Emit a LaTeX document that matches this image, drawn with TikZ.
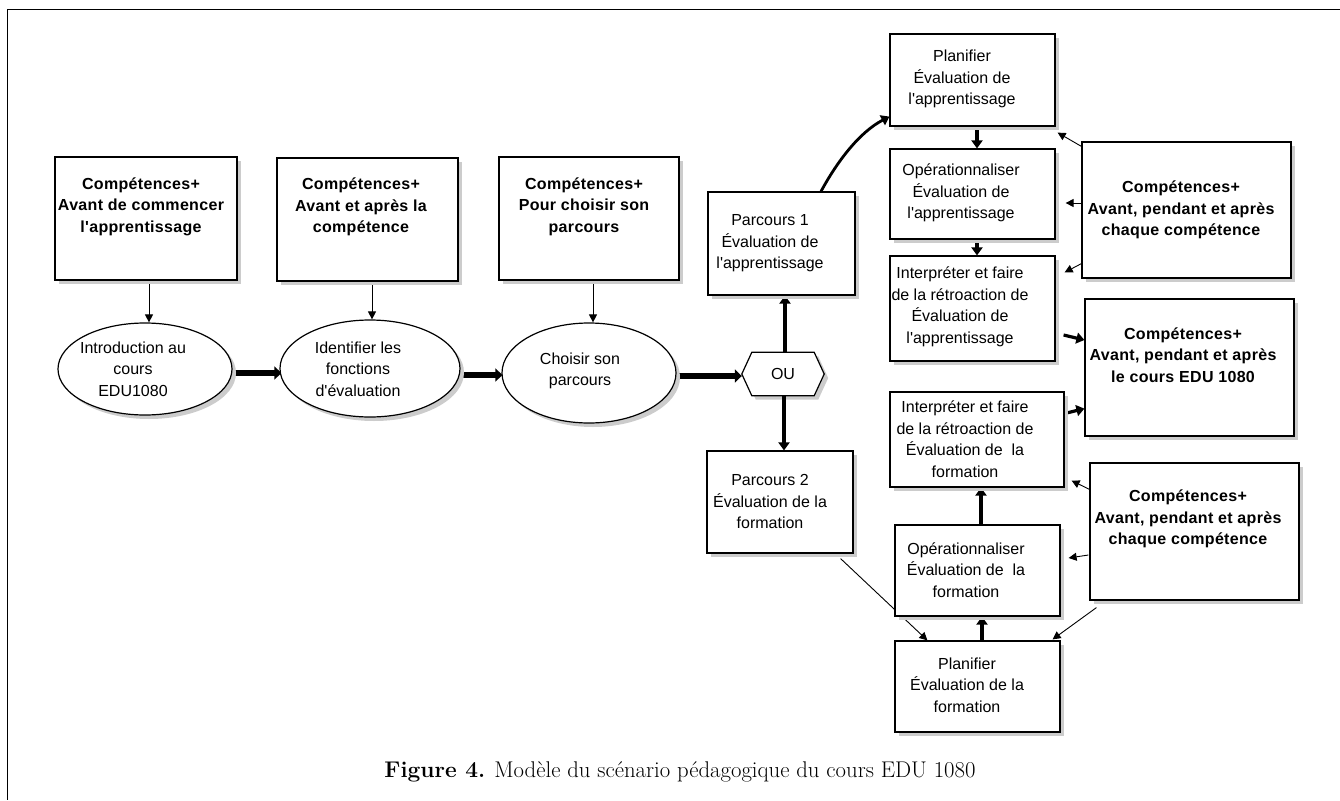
\documentclass[tikz,border=0pt]{standalone}
\usepackage{fontspec}
\setsansfont{Liberation Sans}[Ligatures=TeXOff]
\usetikzlibrary{arrows.meta,shadows,calc,shapes.geometric}
\pgfdeclarelayer{back}
\pgfsetlayers{back,main}

\tikzset{
  shade box/.style={drop shadow={shadow xshift=4pt,shadow yshift=-4pt,opacity=1,fill=black!20}},
  box/.style={draw, line width=1.2pt, fill=white, inner sep=0pt, shade box},
  oval/.style={ellipse, draw, line width=1.2pt, fill=white, inner sep=0pt, shade box},
  txt/.style={font=\sffamily\fontsize{16}{21.5}\selectfont, align=center, inner sep=0pt},
  btxt/.style={font=\sffamily\bfseries\fontsize{16}{21.5}\selectfont\addfontfeatures{LetterSpace=2}, align=center, inner sep=0pt},
  thin arrow/.style={draw, line width=0.9pt, -{Triangle[length=8pt,width=8pt]}},
  bold arrow/.style={draw, line width=3.2pt, -{Triangle[length=8pt,width=11pt]}},
  fat arrow/.style={draw, line width=6.5pt, -{Triangle[length=7pt,width=13pt]}},
}

\begin{document}
\begin{tikzpicture}[x=1pt,y=-1pt]
\useasboundingbox (0,0) rectangle (1340,800);

% frame
\draw[line width=1.6pt] (1340,9.5) -- (7.5,9.5) -- (7.5,800);

% --- top row: competence boxes ---
\node[box, minimum width=182pt, minimum height=123pt] (a1) at (146,218.5) {};
\node[box, minimum width=181pt, minimum height=123pt] (a2) at (367.5,219.5) {};
\node[box, minimum width=180pt, minimum height=123pt] (a3) at (589,218.5) {};
\node[btxt] (a1t) at (141,206.5) {Compétences+\\Avant de commencer\\l'apprentissage};
\node[btxt] (a2t) at (361,207) {Compétences+\\Avant et après la\\compétence};
\node[btxt] (a3t) at (584,206.5) {Compétences+\\Pour choisir son\\parcours};

% --- ellipses ---
\node[oval, minimum width=174pt, minimum height=92pt] (e1) at (145,369) {};
\node[oval, minimum width=180pt, minimum height=97pt] (e2) at (370,368.5) {};
\node[oval, minimum width=174pt, minimum height=100pt] (e3) at (589,373) {};
\node[txt] (e1t) at (133,369) {Introduction au\\cours\\EDU1080};
\node[txt] (e2t) at (358,369) {Identifier les\\fonctions\\d'évaluation};
\node[txt] (e3t) at (580,371) {Choisir son\\parcours};

% --- decision ---
\node[txt, minimum width=82pt, minimum height=43pt] (ou) at (783,374) {OU};

% --- paths ---
\node[box, minimum width=147pt, minimum height=103pt] (p1) at (781.5,243.5) {};
\node[txt] (p1t) at (770,243.5) {Parcours 1\\Évaluation de\\l'apprentissage};
\node[box, minimum width=146pt, minimum height=102pt] (p2) at (780,502) {};
\node[txt] (p2t) at (770,501.5) {Parcours 2\\Évaluation de la\\formation};

% --- learning evaluation steps ---
\node[box, minimum width=165pt, minimum height=92pt] (t1) at (972.5,80) {};
\node[box, minimum width=165pt, minimum height=90pt] (t2) at (972.5,194) {};
\node[box, minimum width=165pt, minimum height=105pt] (t3) at (972.5,308.5) {};
\node[txt] (t1t) at (962,79) {Planifier\\Évaluation de\\l'apprentissage};
\node[txt] (t2t) at (961,193) {Opérationnaliser\\Évaluation de\\l'apprentissage};
\node[txt] (t3t) at (960,307) {Interpréter et faire\\de la rétroaction de\\Évaluation de\\l'apprentissage};

% --- formation evaluation steps ---
\node[box, minimum width=174pt, minimum height=95pt] (b3) at (977,439.5) {};
\node[box, minimum width=165pt, minimum height=91pt] (b2) at (977.5,570.5) {};
\node[box, minimum width=165pt, minimum height=91pt] (b1) at (977.5,686.5) {};
\node[txt] (b3t) at (965,439) {Interpréter et faire\\de la rétroaction de\\Évaluation de\ \ la\\formation};
\node[txt] (b2t) at (966,570) {Opérationnaliser\\Évaluation de\ \ la\\formation};
\node[txt] (b1t) at (967,685) {Planifier\\Évaluation de la\\formation};

% --- right competence boxes ---
\node[box, minimum width=209pt, minimum height=136pt] (r1) at (1186.5,210) {};
\node[box, minimum width=209pt, minimum height=137pt] (r2) at (1189.5,367.5) {};
\node[box, minimum width=209pt, minimum height=137pt] (r3) at (1194.5,531.5) {};
\node[btxt] (r1t) at (1181,210) {Compétences+\\Avant, pendant et après\\chaque compétence};
\node[btxt] (r2t) at (1183,355) {Compétences+\\Avant, pendant et après\\le cours EDU 1080};
\node[btxt] (r3t) at (1188,519) {Compétences+\\Avant, pendant et après\\chaque compétence};

% caption
\node[font=\rmfamily\fontsize{22}{26}\selectfont, inner sep=0pt] (cap) at (680,772)
  {\resizebox{591pt}{!}{\textbf{Figure 4.} Modèle du scénario pédagogique du cours EDU 1080}};

\begin{pgfonlayer}{back}
  % hexagon around OU
  \draw[line width=1.2pt, fill=white, shade box]
    (ou.west) -- ($(ou.north west)+(10,0)$) -- ($(ou.north east)+(-10,0)$) -- (ou.east)
    -- ($(ou.south east)+(-10,0)$) -- ($(ou.south west)+(10,0)$) -- cycle;

  % competences to ellipses
  \draw[thin arrow] ($(a1.south)+(3,0)$) -- ($(e1.north)+(4,0)$);
  \draw[thin arrow] ($(a2.south)+(4.5,0)$) -- ($(e2.north)+(2,0)$);
  \draw[thin arrow] ($(a3.south)+(4,0)$) -- ($(e3.north)+(4,0)$);

  % main sequence
  \draw[fat arrow] ($(e1.east)+(0,4)$) -- ($(e2.west)+(2,4.5)$);
  \draw[fat arrow] ($(e2.east)+(0,6.5)$) -- ($(e3.west)+(1,2)$);
  \draw[fat arrow] ($(e3.east)+(0,3)$) -- ($(ou.west)+(0,2)$);

  % branches
  \draw[bold arrow] ($(ou.north)+(2,0)$) -- ($(p1.south)+(3.5,0)$);
  \draw[bold arrow] ($(ou.south)+(1,0)$) -- ($(p2.north)+(4,0)$);
  \draw[bold arrow, line width=2.8pt] ($(p1.north)+(39.5,0)$)
    .. controls (838,160) and (860,132) .. ($(t1.south west)+(0,-10)$);

  % learning evaluation chain
  \draw[bold arrow] ($(t1.south)+(4.5,0)$) -- ($(t2.north)+(4.5,0)$);
  \draw[bold arrow] ($(t2.south)+(4.5,0)$) -- ($(t3.north)+(4.5,0)$);
  \draw[thin arrow] ($(r1.north west)+(0,5)$) -- ($(t1.south east)+(2,6)$);
  \draw[thin arrow] ($(r1.west)+(0,-7)$) -- ($(t2.east)+(10,9)$);
  \draw[thin arrow] ($(r1.south west)+(0,-15)$) -- ($(t3.north east)+(9,17)$);
  \draw[bold arrow] ($(t3.east)+(8,26.5)$) -- ($(r2.west)+(0,-27.5)$);

  % formation evaluation chain
  \draw[bold arrow] ($(b1.north)+(4.5,0)$) -- ($(b2.south)+(4.5,0)$);
  \draw[bold arrow] ($(b2.north)+(3.5,0)$) -- ($(b3.south)+(4,0)$);
  \draw[bold arrow] ($(b3.east)+(2,-26.5)$) -- ($(r2.south west)+(0,-28)$);
  \draw[thin arrow] ($(p2.south east)+(-13,5)$) -- ($(b1.north west)+(33,0)$);
  \draw[thin arrow] ($(r3.south west)+(7,7)$) -- ($(b1.north east)+(-8,-1)$);
  \draw[thin arrow] ($(r3.north west)+(0,27)$) -- ($(b3.south east)+(7,-7)$);
  \draw[thin arrow] ($(r3.west)+(-1,23.5)$) -- ($(b2.east)+(8,-12.5)$);
\end{pgfonlayer}
\end{tikzpicture}
\end{document}
